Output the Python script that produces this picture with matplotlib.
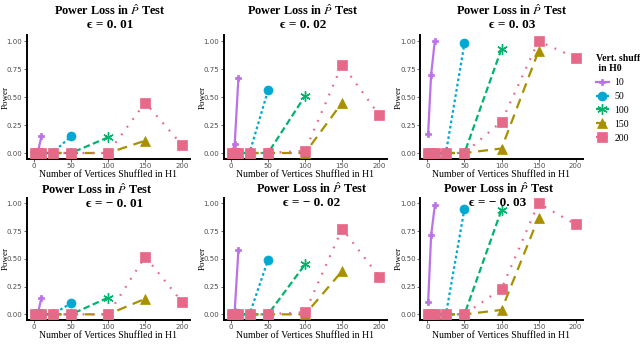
import matplotlib.pyplot as plt
from matplotlib.lines import Line2D

plt.rcParams['mathtext.fontset'] = 'stix'

# x positions (vertices shuffled in H1) for each H0 setting
x_10 = [1, 5, 10]
x_50 = [1, 5, 10, 25, 50]
x_100 = [1, 5, 10, 25, 50, 100]
x_150 = [1, 5, 10, 25, 50, 100, 150]
x_200 = [1, 5, 10, 25, 50, 100, 150, 200]

# power values, one list per panel (eps = .01, .02, .03, -.01, -.02, -.03)
pow_10 = [[0, 0, 0.15], [0, 0.08, 0.67], [0.17, 0.70, 1.00],
          [0, 0, 0.15], [0, 0.03, 0.58], [0.11, 0.71, 0.98]]
pow_50 = [[0, 0, 0, 0, 0.15], [0, 0, 0, 0, 0.56], [0, 0, 0, 0, 0.98],
          [0, 0, 0, 0, 0.10], [0, 0, 0, 0, 0.49], [0, 0, 0, 0, 0.95]]
pow_100 = [[0, 0, 0, 0, 0, 0.14], [0, 0, 0, 0, 0, 0.51], [0, 0, 0, 0, 0, 0.93],
           [0, 0, 0, 0, 0, 0.15], [0, 0, 0, 0, 0, 0.45], [0, 0, 0, 0, 0, 0.94]]
pow_150 = [[0, 0, 0, 0, 0, 0, 0.11], [0, 0, 0, 0, 0, 0, 0.45], [0, 0, 0, 0, 0, 0.04, 0.91],
           [0, 0, 0, 0, 0, 0, 0.14], [0, 0, 0, 0, 0, 0, 0.39], [0, 0, 0, 0, 0, 0.04, 0.87]]
pow_200 = [[0, 0, 0, 0, 0, 0, 0.45, 0.07], [0, 0, 0, 0, 0, 0.02, 0.79, 0.34],
           [0, 0, 0, 0, 0, 0.28, 1.00, 0.85], [0, 0, 0, 0, 0, 0, 0.52, 0.11],
           [0, 0, 0, 0, 0, 0.02, 0.77, 0.34], [0, 0, 0, 0, 0, 0.23, 1.00, 0.81]]

eps_labels = ['0. 01', '0. 02', '0. 03', '\u2212 0. 01', '\u2212 0. 02', '\u2212 0. 03']
legend_labels = ['10', '50', '100', '150', '200']

colors = ['#BB72E6', '#00A8D2', '#00B46E', '#A89000', '#E6698A']
markers = ['P', 'o', (6, 2, 0), '^', 's']
msizes = [5, 6.5, 7.5, 7, 7]
dashes = [None, (1.2, 1.2), (3, 1.5), (4.5, 3), (0.8, 3.5)]

serif = ['Liberation Serif', 'DejaVu Serif']

xs = [x_10, x_50, x_100, x_150, x_200]
pows = [pow_10, pow_50, pow_100, pow_150, pow_200]

fig = plt.figure(figsize=(6.4, 3.55), dpi=100)
W, H = 640, 355

lefts = [26.6, 223.6, 420]
rows = [(35.4, 158.6), (197.7, 319.9)]
width = 163

# title positions (px): line1 center, line2 center
title_pos = [[(110, 11), (110, 25)], [(303, 11), (303, 25)], [(512, 11), (512, 25)],
             [(97, 190), (115, 204)], [(312, 189), (312, 203)], [(499, 189), (498, 203)]]

for k in range(6):
    r, c = divmod(k, 3)
    top, bot = rows[r]
    ax = fig.add_axes([lefts[c] / W, 1 - bot / H, width / W, (bot - top) / H])
    for i in range(5):
        ln, = ax.plot(xs[i], pows[i][k], color=colors[i], lw=1.6,
                      marker=markers[i], ms=msizes[i], mec=colors[i],
                      mew=1.0 if i == 2 else 0.5, zorder=2 + i)
        if dashes[i] is not None:
            ln.set_dashes(dashes[i])
    ax.set_xlim(-10, 210)
    ax.set_ylim(-0.05, 1.05)
    ax.set_xticks([0, 50, 100, 150, 200])
    ax.set_yticks([0, 0.25, 0.5, 0.75, 1.0])
    ax.set_yticklabels(['0.00', '0.25', '0.50', '0.75', '1.00'])
    ax.tick_params(labelsize=5, colors='#4D4D4D', length=2, width=0.6, pad=1)
    for s in ['top', 'right']:
        ax.spines[s].set_visible(False)
    for s in ['left', 'bottom']:
        ax.spines[s].set_linewidth(1.4)
        ax.spines[s].set_color('black')
    ax.set_xlabel('Number of Vertices Shuffled in H1', family=serif, fontsize=7, labelpad=1)
    ax.set_ylabel('Power', family=serif, fontsize=6.5)
    ax.yaxis.set_label_coords(-17.3 / width, 0.5)

    (x1, y1), (x2, y2) = title_pos[k]
    fig.text(x1 / W, 1 - y1 / H, 'Power Loss in $\\hat{P}$ Test', family=serif,
             fontsize=8.8, fontweight='bold', ha='center', va='center')
    fig.text(x2 / W, 1 - y2 / H, '\u03f5 = ' + eps_labels[k], family=serif,
             fontsize=9.5, fontweight='bold', ha='center', va='center')

handles = []
for i in range(5):
    h = Line2D([], [], color=colors[i], lw=1.6, marker=markers[i], ms=msizes[i],
               mec=colors[i], mew=1.0 if i == 2 else 0.5)
    if dashes[i] is not None:
        h.set_dashes(dashes[i])
    handles.append(h)

leg = fig.legend(handles, legend_labels, loc='upper left',
                 bbox_to_anchor=(592 / W, 1 - 50 / H), frameon=False,
                 title='Vert. shuff\n in H0', prop={'family': serif, 'size': 7},
                 handlelength=1.3, handletextpad=0.6, labelspacing=0.5,
                 borderaxespad=0)
leg.get_title().set_fontfamily(serif)
leg.get_title().set_fontweight('bold')
leg.get_title().set_fontsize(7)
leg._legend_box.align = 'left'

fig.savefig('out.png', dpi=100)
